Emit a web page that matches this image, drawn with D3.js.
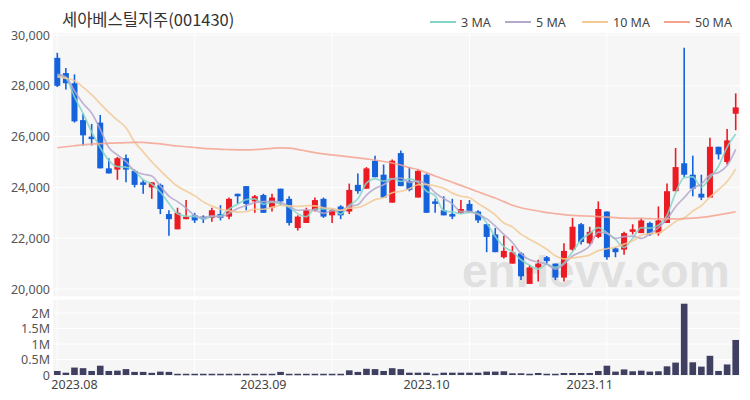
<!DOCTYPE html>
<html><head><meta charset="utf-8">
<script src="https://cdn.jsdelivr.net/npm/d3@7"></script>
<style>body{margin:0;background:#fff}svg{display:block}</style>
</head><body>
<script>
const title = "세아베스틸지주(001430)";
const dates = ["2023.07.28","2023.07.31",
"2023.08.01","2023.08.02","2023.08.03","2023.08.04","2023.08.07","2023.08.08","2023.08.09","2023.08.10","2023.08.11","2023.08.14","2023.08.16","2023.08.17","2023.08.18","2023.08.21","2023.08.22","2023.08.23","2023.08.24","2023.08.25","2023.08.28","2023.08.29","2023.08.30","2023.08.31",
"2023.09.01","2023.09.04","2023.09.05","2023.09.06","2023.09.07","2023.09.08","2023.09.11","2023.09.12","2023.09.13","2023.09.14","2023.09.15","2023.09.18","2023.09.19","2023.09.20","2023.09.21","2023.09.22","2023.09.25","2023.09.26","2023.09.27",
"2023.10.04","2023.10.05","2023.10.06","2023.10.10","2023.10.11","2023.10.12","2023.10.13","2023.10.16","2023.10.17","2023.10.18","2023.10.19","2023.10.20","2023.10.23","2023.10.24","2023.10.25","2023.10.26","2023.10.27","2023.10.30","2023.10.31",
"2023.11.01","2023.11.02","2023.11.03","2023.11.06","2023.11.07","2023.11.08","2023.11.09","2023.11.10","2023.11.13","2023.11.14","2023.11.15","2023.11.16","2023.11.17","2023.11.20","2023.11.21","2023.11.22","2023.11.23","2023.11.24"];
const open  = [29100,28500,28100,26650,26000,26550,24750,24700,25150,24650,24200,24000,24100,22950,22350,22750,22900,22850,22800,22950,22850,23750,24050,23450,23700,23200,23950,23550,22400,22600,23100,23550,22900,23250,23050,24100,23950,25050,24500,23400,25350,24250,23600,24500,23450,23100,22950,23000,23350,23050,22550,22150,21250,21000,21400,20200,20850,21250,21000,20450,21550,22550,21800,22050,23050,21600,21550,22250,22200,22600,22200,22600,23850,24950,24500,23750,23600,25600,25000,26900];
const high  = [29300,28700,28450,26900,26500,26850,25150,25200,25300,24700,24300,24200,24150,23100,23200,23500,23000,22900,23200,23300,23600,23750,24050,23700,23750,23750,23950,23650,22900,23200,23600,23600,23150,23300,24150,24550,24800,25250,24900,25100,25450,24800,24700,24550,23550,23650,23550,23500,23500,23100,22550,22400,22100,21700,21450,20950,21150,21300,21000,21800,22800,22600,22450,23450,23050,21650,22250,22550,22800,22650,23250,24150,25550,29500,25250,24500,25950,25600,26300,27700];
const low   = [27950,27850,26550,25650,25650,24750,24550,24300,24200,24000,23750,23550,22950,22100,22350,22750,22600,22600,22650,22700,22750,23350,23100,23000,23000,23050,23300,22500,22300,22600,23050,22800,22600,22750,22950,23750,23950,24400,23600,23400,24050,23850,23600,23000,23000,22900,22750,22950,23000,22600,21450,21450,21200,21000,20350,20200,20300,21000,20350,20300,21500,21750,21750,22000,21150,21250,21350,22150,22200,22100,22100,22600,23850,24400,23650,23500,23600,25100,24900,26250];
const close = [28000,28100,26600,26050,25900,24750,24550,25150,24700,24100,24100,24200,23150,22750,23000,22850,22700,22750,23100,22800,23550,23650,23350,23650,23000,23600,23450,22600,22850,23100,23500,22850,23100,22900,23900,23850,24750,24400,23600,25050,24050,23900,24650,23000,23350,22900,22850,23150,23050,22700,22050,21450,21500,21450,20500,20850,21000,21100,20450,21500,22450,21850,22250,23150,21250,21450,22200,22350,22700,22150,22700,23850,24800,24500,23950,23600,25600,25300,25850,27150];
const volume = [130000,75000,240000,220000,130000,300000,130000,140000,190000,100000,100000,70000,110000,100000,40000,40000,40000,40000,40000,40000,40000,40000,40000,40000,40000,40000,100000,40000,40000,40000,40000,40000,40000,40000,150000,100000,200000,190000,130000,220000,190000,75000,75000,75000,40000,75000,75000,75000,75000,75000,110000,110000,120000,55000,55000,40000,65000,40000,40000,65000,65000,65000,65000,130000,300000,110000,180000,120000,140000,110000,120000,280000,400000,2300000,410000,270000,620000,130000,340000,1130000];
// leading MA values (window extends before visible range)
const ma3Lead = [28400,28300];
const ma5Lead = [28450,28350,27800,27300];
const ma10Lead = [28350,28300,28200,27950,27650,27300,26950,26650,26350];
const ma50 = [25560,25600,25640,25680,25700,25720,25740,25750,25760,25770,25770,25740,25710,25670,25630,25600,25570,25540,25520,25500,25490,25480,25480,25490,25510,25540,25560,25550,25500,25430,25370,25320,25280,25240,25200,25160,25120,25080,25020,24960,24880,24780,24700,24580,24450,24320,24200,24080,23950,23830,23700,23580,23440,23300,23200,23130,23070,23010,22970,22930,22900,22880,22870,22850,22830,22810,22790,22780,22780,22770,22760,22760,22760,22770,22790,22820,22860,22920,22980,23040];
const priceTicks = [20000,22000,24000,26000,28000,30000];
const volTicks = [0,500000,1000000,1500000,2000000];
const xTickLabels = ["2023.08","2023.09","2023.10","2023.11"];
const legendNames = ["3 MA","5 MA","10 MA","50 MA"];
const watermark = "enHevv.com";

function movingAvg(n, lead){
  return close.map((c,i)=> i < lead.length ? lead[i] : d3.mean(close.slice(i-n+1,i+1)));
}
const maSeries = [movingAvg(3,ma3Lead), movingAvg(5,ma5Lead), movingAvg(10,ma10Lead), ma50];
const maColors = ["#84d5c9","#b4a8cb","#f3c994","#f5a390"];
const UP="#ec1a22", DOWN="#1462dc", VOL="#3f3f62";

const W=750,H=400, L=53, R=740;
const svg=d3.select("body").append("svg").attr("width",W).attr("height",H)
  .style("font-family","'Noto Sans', sans-serif");

const idx=d3.range(dates.length);
const x=d3.scaleBand().domain(idx).range([L,R]).paddingInner(0.3).paddingOuter(0.15);
const cx=i=>x(i)+x.bandwidth()/2;
const y=d3.scaleLinear().domain([20000,30000]).range([289,35]);
const yv=d3.scaleLinear().domain([0,2000000]).range([375,313]);

const pTop=y(30080), pBot=y(19720), vTop=yv(2430000), vBot=yv(-30000);
svg.append("rect").attr("x",L).attr("y",pTop).attr("width",R-L).attr("height",pBot-pTop).attr("fill","#f6f6f7");
svg.append("rect").attr("x",L).attr("y",vTop).attr("width",R-L).attr("height",vBot-vTop).attr("fill","#f6f6f7");

// grid
const gridIdx = idx.filter(i=>i%16===0);
svg.append("g").selectAll("line").data(priceTicks).join("line")
  .attr("x1",L).attr("x2",R).attr("y1",d=>y(d)).attr("y2",d=>y(d)).attr("stroke","#fff").attr("stroke-width",1);
svg.append("g").selectAll("line").data(volTicks.slice(1)).join("line")
  .attr("x1",L).attr("x2",R).attr("y1",d=>yv(d)).attr("y2",d=>yv(d)).attr("stroke","#fff").attr("stroke-width",1);
svg.append("g").selectAll("line").data(gridIdx).join("line")
  .attr("x1",d=>cx(d)).attr("x2",d=>cx(d)).attr("y1",pTop).attr("y2",pBot).attr("stroke","#fff").attr("stroke-width",1);
svg.append("g").selectAll("line").data(gridIdx).join("line")
  .attr("x1",d=>cx(d)).attr("x2",d=>cx(d)).attr("y1",vTop).attr("y2",vBot).attr("stroke","#fff").attr("stroke-width",1);

// watermark
svg.append("text").attr("x",462).attr("y",287).text(watermark)
  .attr("font-family","'Liberation Sans', Arial, sans-serif").attr("font-weight","bold")
  .attr("font-size",46).attr("fill","#e0e0e0");

// axes
const yAxis=d3.axisLeft(y).tickValues(priceTicks).tickFormat(d3.format(",")).tickSize(0).tickPadding(3);
svg.append("g").attr("transform",`translate(${L},0)`).call(yAxis).call(g=>g.select(".domain").remove())
  .selectAll("text").attr("font-size",12.5).attr("fill","#555").attr("font-family","'Noto Sans', sans-serif");
const vAxis=d3.axisLeft(yv).tickValues(volTicks).tickFormat(d=>d===0?"0":(d/1e6)+"M").tickSize(0).tickPadding(3);
svg.append("g").attr("transform",`translate(${L},0)`).call(vAxis).call(g=>g.select(".domain").remove())
  .selectAll("text").attr("font-size",12.5).attr("fill","#555").attr("font-family","'Noto Sans', sans-serif");
const tickIdx = xTickLabels.map(lb=>dates.findIndex(d=>d.startsWith(lb)));
const xAxis=d3.axisBottom(x).tickValues(tickIdx).tickFormat((d,i)=>xTickLabels[i]).tickSize(0).tickPadding(4);
svg.append("g").attr("transform",`translate(0,${vBot})`).call(xAxis).call(g=>g.select(".domain").remove())
  .selectAll("text").attr("font-size",12.5).attr("fill","#444").attr("font-family","'Noto Sans', sans-serif");

// volume
svg.append("g").selectAll("rect").data(idx).join("rect")
  .attr("x",i=>x(i)-0.3).attr("width",x.bandwidth()+0.6)
  .attr("y",i=>yv(volume[i])).attr("height",i=>Math.max(1.5,yv(0)-yv(volume[i]))).attr("fill",VOL);

// candles
const cg=svg.append("g");
cg.selectAll("line").data(idx).join("line")
  .attr("x1",cx).attr("x2",cx).attr("y1",i=>y(high[i])).attr("y2",i=>y(low[i]))
  .attr("stroke",i=>close[i]>=open[i]?UP:DOWN).attr("stroke-width",1.6);
cg.selectAll("rect").data(idx).join("rect")
  .attr("x",i=>x(i)).attr("width",x.bandwidth())
  .attr("y",i=>y(Math.max(open[i],close[i])))
  .attr("height",i=>Math.max(1.5,Math.abs(y(open[i])-y(close[i]))))
  .attr("fill",i=>close[i]>=open[i]?UP:DOWN);

// MA lines
const line=d3.line().x((d,i)=>cx(i)).y(d=>y(d)).curve(d3.curveMonotoneX);
maSeries.forEach((s,k)=>{
  svg.append("path").attr("d",line(s)).attr("fill","none").attr("stroke",maColors[k])
    .attr("stroke-width",1.7).attr("stroke-opacity",0.85);
});

// title
svg.append("text").attr("x",62).attr("y",26).text(title)
  .attr("font-family","'Noto Sans CJK KR', 'Noto Sans', sans-serif").attr("font-size",16.5).attr("fill","#333");

// legend
const legendX=[430,505,582,664];
const lg=svg.append("g");
legendNames.forEach((n,k)=>{
  lg.append("line").attr("x1",legendX[k]).attr("x2",legendX[k]+26).attr("y1",22).attr("y2",22)
    .attr("stroke",maColors[k]).attr("stroke-width",2);
  lg.append("text").attr("x",legendX[k]+31).attr("y",26.5).text(n).attr("font-size",12.5).attr("fill","#444");
});
</script>
</body></html>
